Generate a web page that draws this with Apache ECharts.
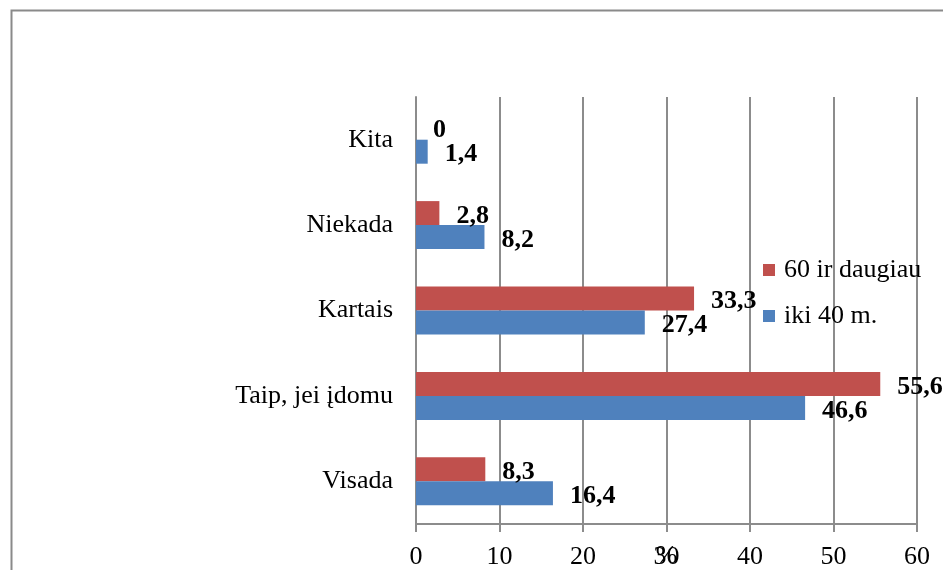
<!DOCTYPE html>
<html>
<head>
<meta charset="utf-8">
<script src="https://cdn.jsdelivr.net/npm/echarts@6/dist/echarts.min.js"></script>
<style>
  html, body { margin: 0; padding: 0; background: #fff; }
  #chart { width: 943px; height: 570px; }
</style>
</head>
<body>
<div id="chart"></div>
<script>
// categories bottom -> top
const categories = ["Visada", "Taip, jei įdomu", "Kartais", "Niekada", "Kita"];
const seriesNames = ["60 ir daugiau", "iki 40 m."];
const old60 = [8.3, 55.6, 33.3, 2.8, 0];
const young40 = [16.4, 46.6, 27.4, 8.2, 1.4];
const xTicks = [0, 60, 10]; // min, max, interval

const serif = '"Liberation Serif", "Times New Roman", serif';
const gridColor = "#8c8c8c";

let myChart = echarts.init(document.getElementById("chart"));

let labelStyle = {
  show: true,
  position: "right",
  distance: 17,
  offset: [0, 3],
  color: "#000",
  fontFamily: serif,
  fontWeight: "bold",
  fontSize: 26,
  formatter: function (p) {
    return String(p.value).replace(".", ",");
  }
};

let option = {
  animation: false,
  textStyle: { fontFamily: serif },
  graphic: [
    {
      type: "rect",
      left: 9,
      top: 8,
      shape: { width: 1000, height: 1000 },
      style: { fill: "none", stroke: "#8a8a8a", lineWidth: 2 },
      silent: true
    }
  ],
  grid: {
    left: 416,
    right: 26,
    top: 97,
    bottom: 46,
    containLabel: false,
    outerBoundsMode: "none"
  },
  legend: {
    data: seriesNames,
    orient: "vertical",
    left: 758,
    top: 252,
    itemWidth: 12,
    itemHeight: 12,
    itemGap: 20,
    icon: "rect",
    textStyle: {
      color: "#000",
      fontFamily: serif,
      fontSize: 26,
      padding: [0, 0, 0, 4]
    }
  },
  xAxis: {
    type: "value",
    min: xTicks[0],
    max: xTicks[1],
    interval: xTicks[2],
    name: "%",
    nameLocation: "middle",
    nameGap: 19,
    nameMoveOverlap: false,
    nameTextStyle: { color: "#000", fontFamily: serif, fontSize: 26 },
    axisLine: { show: true, lineStyle: { color: gridColor, width: 2 } },
    axisTick: { show: true, length: 8, lineStyle: { color: gridColor, width: 2 } },
    axisLabel: { color: "#000", fontFamily: serif, fontSize: 26, margin: 20 },
    splitLine: { show: true, lineStyle: { color: gridColor, width: 2 } }
  },
  yAxis: {
    type: "category",
    data: categories,
    axisLine: { show: true, lineStyle: { color: gridColor, width: 2 } },
    axisTick: { show: false },
    axisLabel: { color: "#000", fontFamily: serif, fontSize: 26, margin: 23 }
  },
  series: [
    {
      name: seriesNames[0],
      type: "bar",
      data: old60,
      barWidth: 24,
      barGap: "0%",
      itemStyle: { color: "#C0504D" },
      label: labelStyle
    },
    {
      name: seriesNames[1],
      type: "bar",
      data: young40,
      barWidth: 24,
      barGap: "0%",
      itemStyle: { color: "#4F81BD" },
      label: labelStyle
    }
  ]
};

myChart.setOption(option);
</script>
</body>
</html>
